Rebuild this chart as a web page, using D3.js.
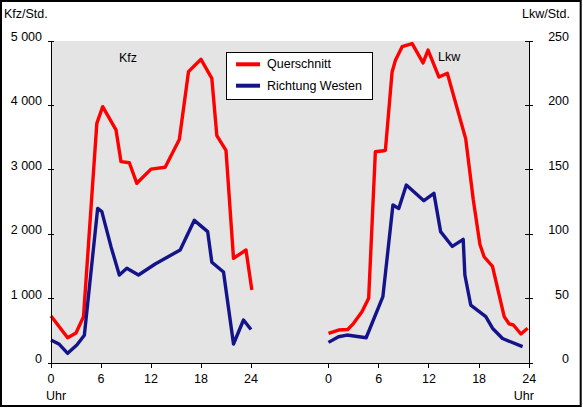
<!DOCTYPE html>
<html><head><meta charset="utf-8">
<script src="https://cdn.jsdelivr.net/npm/d3@7/dist/d3.min.js"></script>
<style>html,body{margin:0;padding:0;background:#fff;}svg{display:block;}</style>
</head><body>
<svg id="c" width="583" height="408"></svg>
<script>
// ---- data ----
const hourTicks = [0, 6, 12, 18, 24];
const kfzTicks = [0, 1000, 2000, 3000, 4000, 5000];
const lkwTicks = [0, 50, 100, 150, 200, 250];
const seriesNames = ["Querschnitt", "Richtung Westen"];

const kfzQuerHours = [0, 2.0, 3.0, 3.9, 5.5, 6.2, 7.8, 8.4, 9.4, 10.3, 12.0, 13.7, 15.4, 16.5, 18.0, 19.3, 19.9, 21.0, 21.9, 23.4, 24.1];
const kfzQuerValues = [730, 393, 465, 720, 3720, 3980, 3620, 3126, 3110, 2790, 3010, 3040, 3470, 4524, 4716, 4420, 3530, 3300, 1625, 1755, 1133];

const kfzWestHours = [0, 1.0, 2.0, 3.1, 4.0, 5.6, 6.1, 7.2, 8.2, 9.1, 10.5, 12.5, 15.5, 17.2, 18.8, 19.3, 20.7, 21.9, 23.1, 24.0];
const kfzWestValues = [357, 290, 150, 280, 430, 2400, 2350, 1806, 1366, 1470, 1366, 1537, 1755, 2215, 2040, 1565, 1412, 295, 668, 520];

const lkwQuerHours = [0, 1.2, 2.3, 3.0, 4.0, 4.8, 5.6, 6.8, 7.6, 8.0, 8.8, 10.0, 11.3, 11.9, 13.2, 14.2, 16.4, 17.3, 18.1, 18.6, 19.6, 21.0, 21.6, 22.1, 23.0, 23.8];
const lkwQuerValues = [23, 25.6, 26, 30.8, 39.8, 50.2, 164, 165, 226, 235, 245.6, 248, 233, 243, 222, 225, 174, 127, 92, 82.5, 75, 36, 30.3, 29.5, 22.5, 27];

const lkwWestHours = [0, 1.2, 2.2, 4.5, 6.5, 7.7, 8.4, 9.3, 11.4, 12.6, 13.4, 14.8, 16.1, 16.3, 17.0, 18.8, 19.6, 20.8, 23.2];
const lkwWestValues = [16, 20.4, 21.7, 19.6, 51.5, 122.7, 120, 138.2, 126, 131.7, 102, 90.5, 96, 68.3, 45, 36, 27, 19, 12.7];

// ---- drawing ----
const svg = d3.select("#c");
const FONT = "'Liberation Sans', Arial, sans-serif";
const FS = "12.5px";
const RED = "#ff0000", BLUE = "#14148a";

const plot = {left: 51, right: 529.3, top: 41, bottom: 363};
const yL = d3.scaleLinear().domain([0, 5000]).range([plot.bottom, plot.top]);
const yR = d3.scaleLinear().domain([0, 250]).range([plot.bottom, plot.top]);
const xL = d3.scaleLinear().domain([0, 24]).range([51, 251]);
const xR = d3.scaleLinear().domain([0, 24]).range([328.5, 529.3]);

const loc = d3.formatLocale({decimal: ",", thousands: " ", grouping: [3], currency: ["", ""]});
const fmt = loc.format(",");

svg.append("rect").attr("x", 0).attr("y", 0).attr("width", 583).attr("height", 408).attr("fill", "#fff");

// plot area
svg.append("rect").attr("x", plot.left).attr("y", plot.top)
  .attr("width", plot.right - plot.left).attr("height", plot.bottom - plot.top)
  .attr("fill", "#e4e4e4");

function txt(x, y, s, anchor) {
  return svg.append("text").attr("x", x).attr("y", y).text(s)
    .attr("font-family", FONT).attr("font-size", FS).attr("fill", "#000")
    .attr("text-anchor", anchor || "start");
}

// lines
function drawLine(xs, hours, vals, ys, color) {
  const pts = hours.map((h, i) => [h, vals[i]]);
  svg.append("path").datum(pts)
    .attr("d", d3.line().x(d => xs(d[0])).y(d => ys(d[1])))
    .attr("fill", "none").attr("stroke", color).attr("stroke-width", 3.4)
    .attr("stroke-linejoin", "round").attr("stroke-linecap", "butt");
}
drawLine(xL, kfzQuerHours, kfzQuerValues, yL, RED);
drawLine(xL, kfzWestHours, kfzWestValues, yL, BLUE);
drawLine(xR, lkwQuerHours, lkwQuerValues, yR, RED);
drawLine(xR, lkwWestHours, lkwWestValues, yR, BLUE);

// axes
const ax = svg.append("g").attr("stroke", "#000").attr("stroke-width", 1).attr("shape-rendering", "crispEdges");
ax.append("line").attr("x1", plot.left).attr("x2", plot.left).attr("y1", plot.top).attr("y2", plot.bottom);
ax.append("line").attr("x1", plot.right).attr("x2", plot.right).attr("y1", plot.top).attr("y2", plot.bottom);
ax.append("line").attr("x1", plot.left).attr("x2", plot.right).attr("y1", plot.bottom).attr("y2", plot.bottom);

kfzTicks.forEach(v => {
  ax.append("line").attr("x1", plot.left - 3).attr("x2", plot.left + 3).attr("y1", yL(v)).attr("y2", yL(v));
  txt(42, yL(v), fmt(v), "end");
});
lkwTicks.forEach(v => {
  ax.append("line").attr("x1", plot.right - 4).attr("x2", plot.right + 4).attr("y1", yR(v)).attr("y2", yR(v));
  txt(569, yR(v), fmt(v), "end");
});
hourTicks.forEach(h => {
  ax.append("line").attr("x1", xL(h)).attr("x2", xL(h)).attr("y1", plot.bottom).attr("y2", plot.bottom + 5);
  ax.append("line").attr("x1", xR(h)).attr("x2", xR(h)).attr("y1", plot.bottom).attr("y2", plot.bottom + 5);
  txt(xL(h), 383, String(h), "middle");
  txt(xR(h), 383, String(h), "middle");
});

txt(46, 400, "Uhr");
txt(534, 400, "Uhr", "end");
txt(4, 18, "Kfz/Std.");
txt(570, 18, "Lkw/Std.", "end");
txt(119, 62, "Kfz");
txt(438, 61, "Lkw");

// legend
svg.append("rect").attr("x", 226).attr("y", 52.5).attr("width", 146.5).attr("height", 46.5)
  .attr("fill", "#fff").attr("stroke", "#000").attr("stroke-width", 1).attr("shape-rendering", "crispEdges");
[RED, BLUE].forEach((c, i) => {
  const y = 64.3 + i * 21.4;
  svg.append("line").attr("x1", 236).attr("x2", 260).attr("y1", y).attr("y2", y)
    .attr("stroke", c).attr("stroke-width", 4);
  txt(267, y + 4, seriesNames[i]);
});

// border
svg.append("rect").attr("x", 1).attr("y", 1).attr("width", 579.7).attr("height", 405)
  .attr("fill", "none").attr("stroke", "#000").attr("stroke-width", 2);
</script>
</body></html>
